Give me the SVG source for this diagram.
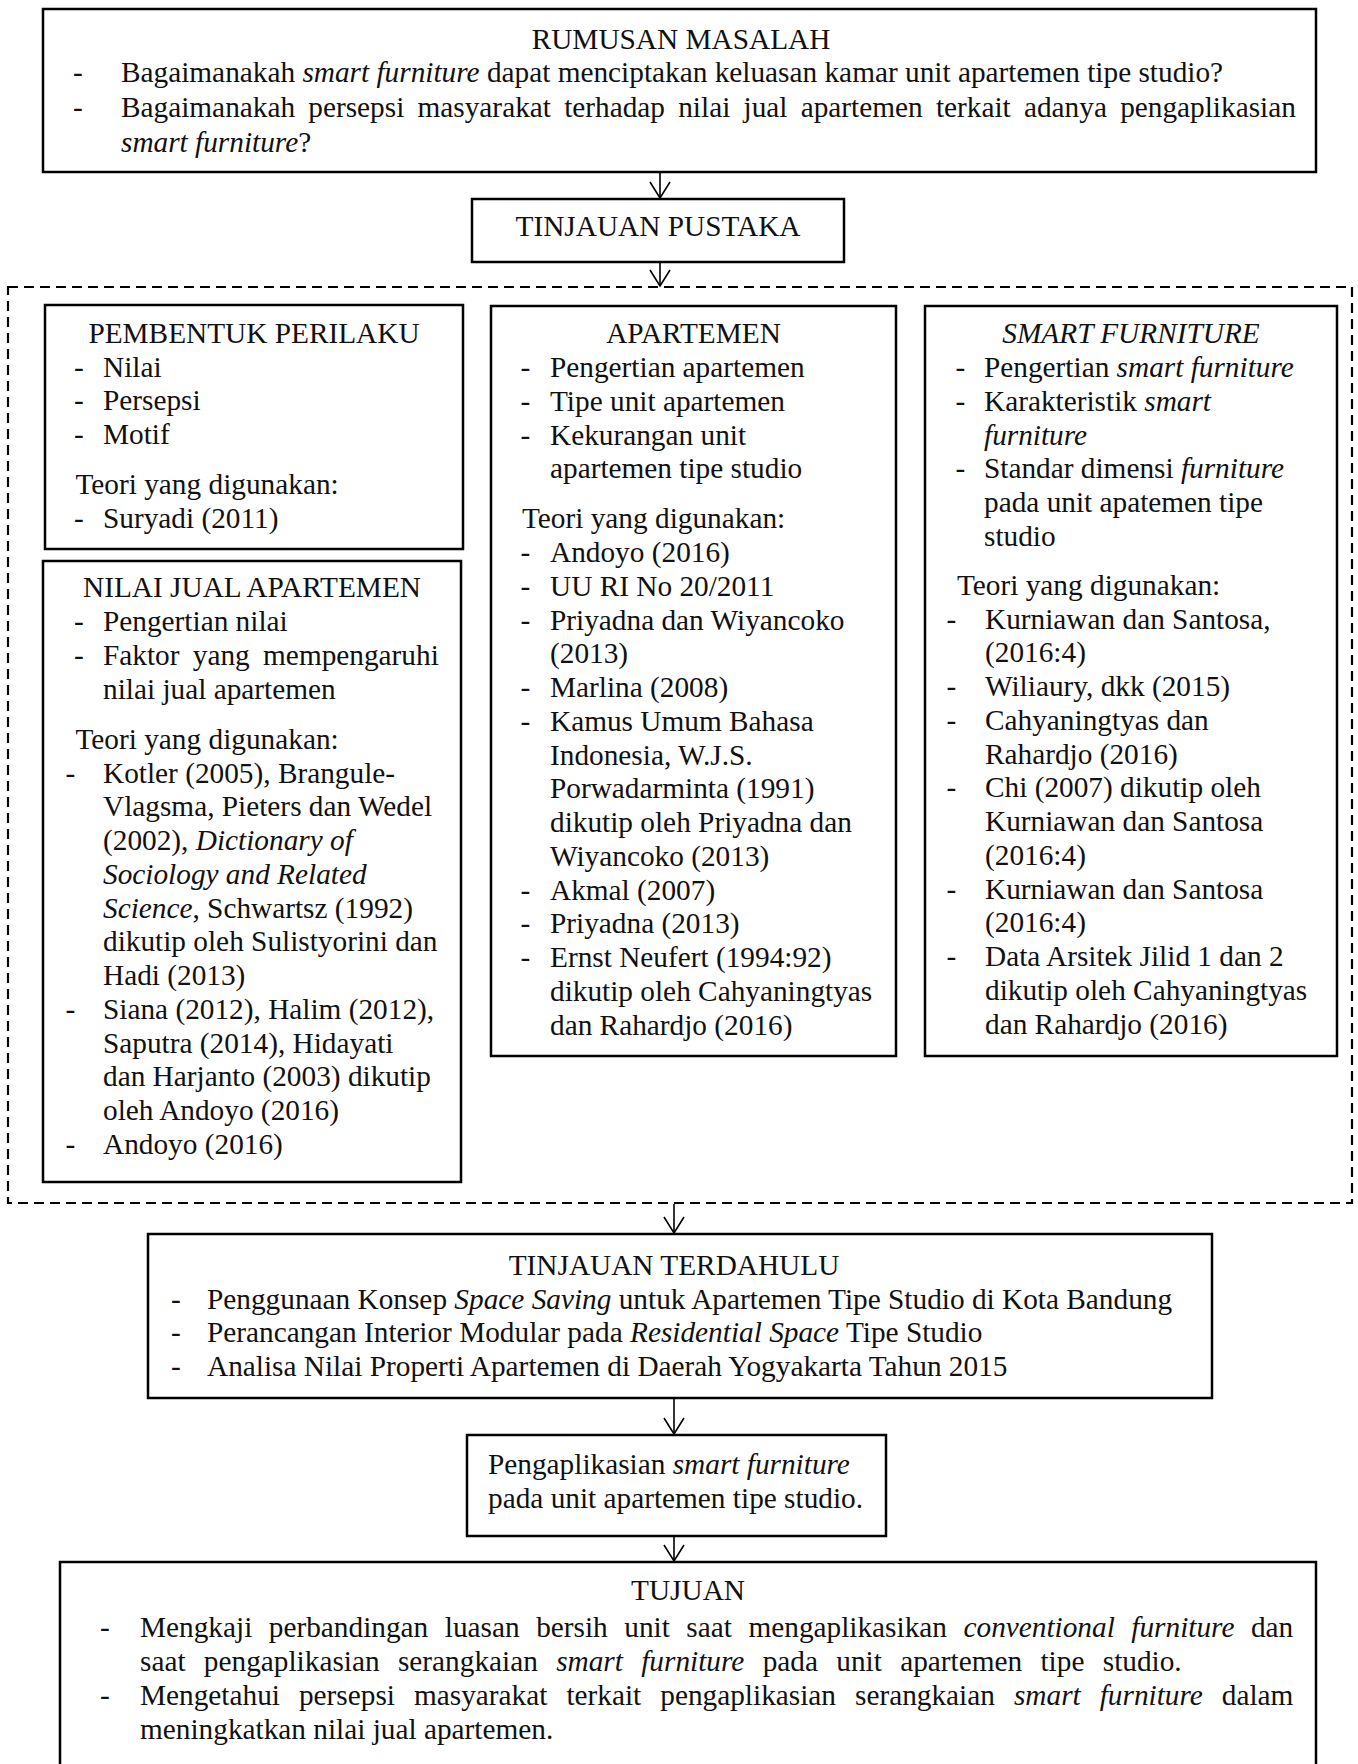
<svg xmlns="http://www.w3.org/2000/svg" width="1358" height="1764" viewBox="0 0 1358 1764">
<defs>
<style>
.box{fill:#fff;stroke:#000;stroke-width:2.5}
.frame{fill:none;stroke:#000;stroke-width:2.2;stroke-dasharray:10 6}
.t{font-family:"Liberation Serif","Times New Roman",serif;font-size:29.3px;fill:#111}
.c{text-anchor:middle}
.i{font-style:italic}
.ln{stroke:#000;stroke-width:1.6;fill:none}
</style>
<marker id="arr" markerUnits="userSpaceOnUse" markerWidth="22" markerHeight="26" viewBox="-2 -13 22 26" refX="16" refY="0" orient="auto">
<path d="M0,-10 L16,0 L0,10" fill="none" stroke="#000" stroke-width="1.6"/>
</marker>
</defs>
<rect width="1358" height="1764" fill="#fff"/>

<g id="connectors">
<line class="ln" x1="660" y1="172" x2="660" y2="198" marker-end="url(#arr)"/>
<line class="ln" x1="660" y1="262" x2="660" y2="286" marker-end="url(#arr)"/>
<line class="ln" x1="674" y1="1204" x2="674" y2="1233" marker-end="url(#arr)"/>
<line class="ln" x1="674" y1="1399" x2="674" y2="1434" marker-end="url(#arr)"/>
<line class="ln" x1="674" y1="1537" x2="674" y2="1561" marker-end="url(#arr)"/>
</g>

<g id="rumusan-masalah">
<rect class="box" x="43" y="9" width="1273" height="163"/>
<text class="t c" x="681" y="49">RUMUSAN MASALAH</text>
<text class="t" x="73" y="82">-</text>
<text class="t" x="121" y="82">Bagaimanakah <tspan class="i">smart furniture</tspan> dapat menciptakan keluasan kamar unit apartemen tipe studio?</text>
<text class="t" x="73" y="117">-</text>
<text class="t" x="121" y="117" word-spacing="5.9">Bagaimanakah persepsi masyarakat terhadap nilai jual apartemen terkait adanya pengaplikasian</text>
<text class="t" x="121" y="151.5"><tspan class="i">smart furniture</tspan>?</text>
</g>

<g id="tinjauan-pustaka">
<rect class="box" x="472" y="199" width="372" height="63"/>
<text class="t c" x="658" y="236">TINJAUAN PUSTAKA</text>
</g>

<g id="tinjauan-pustaka-frame">
<rect class="frame" x="8" y="287" width="1344" height="916"/>
</g>

<g id="pembentuk-perilaku">
<rect class="box" x="45" y="305" width="418" height="244"/>
<text class="t c" x="254" y="343">PEMBENTUK PERILAKU</text>
<text class="t" x="74" y="376.5">-</text><text class="t" x="103" y="376.5">Nilai</text>
<text class="t" x="74" y="410.25">-</text><text class="t" x="103" y="410.25">Persepsi</text>
<text class="t" x="74" y="444">-</text><text class="t" x="103" y="444">Motif</text>
<text class="t" x="75.5" y="494">Teori yang digunakan:</text>
<text class="t" x="74" y="527.5">-</text><text class="t" x="103" y="527.5">Suryadi (2011)</text>
</g>

<g id="nilai-jual-apartemen">
<rect class="box" x="43" y="561" width="418" height="621"/>
<text class="t c" x="252" y="597">NILAI JUAL APARTEMEN</text>
<text class="t" x="74" y="631">-</text><text class="t" x="103" y="631">Pengertian nilai</text>
<text class="t" x="74" y="664.75">-</text><text class="t" x="103" y="664.75" word-spacing="6">Faktor yang mempengaruhi</text>
<text class="t" x="103" y="698.5">nilai jual apartemen</text>
<text class="t" x="75.5" y="748.5">Teori yang digunakan:</text>
<text class="t" x="65.5" y="782.5">-</text><text class="t" x="103" y="782.5">Kotler (2005), Brangule-</text>
<text class="t" x="103" y="816.25">Vlagsma, Pieters dan Wedel</text>
<text class="t" x="103" y="850">(2002), <tspan class="i">Dictionary of</tspan></text>
<text class="t i" x="103" y="883.75">Sociology and Related</text>
<text class="t" x="103" y="917.5"><tspan class="i">Science</tspan>, Schwartsz (1992)</text>
<text class="t" x="103" y="951.25">dikutip oleh Sulistyorini dan</text>
<text class="t" x="103" y="985">Hadi (2013)</text>
<text class="t" x="65.5" y="1018.75">-</text><text class="t" x="103" y="1018.75">Siana (2012), Halim (2012),</text>
<text class="t" x="103" y="1052.5">Saputra (2014), Hidayati</text>
<text class="t" x="103" y="1086.25">dan Harjanto (2003) dikutip</text>
<text class="t" x="103" y="1120">oleh Andoyo (2016)</text>
<text class="t" x="65.5" y="1153.75">-</text><text class="t" x="103" y="1153.75">Andoyo (2016)</text>
</g>

<g id="apartemen">
<rect class="box" x="491" y="306" width="405" height="750"/>
<text class="t c" x="693.5" y="343">APARTEMEN</text>
<text class="t" x="520.5" y="377">-</text><text class="t" x="550" y="377">Pengertian apartemen</text>
<text class="t" x="520.5" y="410.75">-</text><text class="t" x="550" y="410.75">Tipe unit apartemen</text>
<text class="t" x="520.5" y="444.5">-</text><text class="t" x="550" y="444.5">Kekurangan unit</text>
<text class="t" x="550" y="478.25">apartemen tipe studio</text>
<text class="t" x="522" y="528">Teori yang digunakan:</text>
<text class="t" x="520.5" y="562">-</text><text class="t" x="550" y="562">Andoyo (2016)</text>
<text class="t" x="520.5" y="595.75">-</text><text class="t" x="550" y="595.75">UU RI No 20/2011</text>
<text class="t" x="520.5" y="629.5">-</text><text class="t" x="550" y="629.5">Priyadna dan Wiyancoko</text>
<text class="t" x="550" y="663.25">(2013)</text>
<text class="t" x="520.5" y="697">-</text><text class="t" x="550" y="697">Marlina (2008)</text>
<text class="t" x="520.5" y="730.75">-</text><text class="t" x="550" y="730.75">Kamus Umum Bahasa</text>
<text class="t" x="550" y="764.5">Indonesia, W.J.S.</text>
<text class="t" x="550" y="798.25">Porwadarminta (1991)</text>
<text class="t" x="550" y="832">dikutip oleh Priyadna dan</text>
<text class="t" x="550" y="865.75">Wiyancoko (2013)</text>
<text class="t" x="520.5" y="899.5">-</text><text class="t" x="550" y="899.5">Akmal (2007)</text>
<text class="t" x="520.5" y="933.25">-</text><text class="t" x="550" y="933.25">Priyadna (2013)</text>
<text class="t" x="520.5" y="967">-</text><text class="t" x="550" y="967">Ernst Neufert (1994:92)</text>
<text class="t" x="550" y="1000.75">dikutip oleh Cahyaningtyas</text>
<text class="t" x="550" y="1034.5">dan Rahardjo (2016)</text>
</g>

<g id="smart-furniture">
<rect class="box" x="925" y="306" width="412" height="750"/>
<text class="t c i" x="1131" y="343">SMART FURNITURE</text>
<text class="t" x="955.5" y="377">-</text><text class="t" x="984" y="377">Pengertian <tspan class="i">smart furniture</tspan></text>
<text class="t" x="955.5" y="410.75">-</text><text class="t" x="984" y="410.75">Karakteristik <tspan class="i">smart</tspan></text>
<text class="t i" x="984" y="444.5">furniture</text>
<text class="t" x="955.5" y="478.25">-</text><text class="t" x="984" y="478.25">Standar dimensi <tspan class="i">furniture</tspan></text>
<text class="t" x="984" y="512">pada unit apatemen tipe</text>
<text class="t" x="984" y="545.75">studio</text>
<text class="t" x="957" y="595">Teori yang digunakan:</text>
<text class="t" x="946.5" y="628.5">-</text><text class="t" x="985" y="628.5">Kurniawan dan Santosa,</text>
<text class="t" x="985" y="662.25">(2016:4)</text>
<text class="t" x="946.5" y="696">-</text><text class="t" x="985" y="696">Wiliaury, dkk (2015)</text>
<text class="t" x="946.5" y="729.75">-</text><text class="t" x="985" y="729.75">Cahyaningtyas dan</text>
<text class="t" x="985" y="763.5">Rahardjo (2016)</text>
<text class="t" x="946.5" y="797.25">-</text><text class="t" x="985" y="797.25">Chi (2007) dikutip oleh</text>
<text class="t" x="985" y="831">Kurniawan dan Santosa</text>
<text class="t" x="985" y="864.75">(2016:4)</text>
<text class="t" x="946.5" y="898.5">-</text><text class="t" x="985" y="898.5">Kurniawan dan Santosa</text>
<text class="t" x="985" y="932.25">(2016:4)</text>
<text class="t" x="946.5" y="966">-</text><text class="t" x="985" y="966">Data Arsitek Jilid 1 dan 2</text>
<text class="t" x="985" y="999.75">dikutip oleh Cahyaningtyas</text>
<text class="t" x="985" y="1033.5">dan Rahardjo (2016)</text>
</g>

<g id="tinjauan-terdahulu">
<rect class="box" x="148" y="1234" width="1064" height="164"/>
<text class="t c" x="674" y="1275">TINJAUAN TERDAHULU</text>
<text class="t" x="171" y="1308.5">-</text><text class="t" x="207" y="1308.5">Penggunaan Konsep <tspan class="i">Space Saving</tspan> untuk Apartemen Tipe Studio di Kota Bandung</text>
<text class="t" x="171" y="1342.25">-</text><text class="t" x="207" y="1342.25">Perancangan Interior Modular pada <tspan class="i">Residential Space</tspan> Tipe Studio</text>
<text class="t" x="171" y="1376">-</text><text class="t" x="207" y="1376">Analisa Nilai Properti Apartemen di Daerah Yogyakarta Tahun 2015</text>
</g>

<g id="pengaplikasian">
<rect class="box" x="467" y="1435" width="419" height="101"/>
<text class="t" x="488" y="1474">Pengaplikasian <tspan class="i">smart furniture</tspan></text>
<text class="t" x="488" y="1508">pada unit apartemen tipe studio.</text>
</g>

<g id="tujuan">
<rect class="box" x="60" y="1562" width="1256" height="230"/>
<text class="t c" x="688" y="1600">TUJUAN</text>
<text class="t" x="100" y="1637">-</text><text class="t" x="140" y="1637" word-spacing="9.2">Mengkaji perbandingan luasan bersih unit saat mengaplikasikan <tspan class="i">conventional furniture</tspan> dan</text>
<text class="t" x="140" y="1671" word-spacing="11">saat pengaplikasian serangkaian <tspan class="i">smart furniture</tspan> pada unit apartemen tipe studio.</text>
<text class="t" x="100" y="1705">-</text><text class="t" x="140" y="1705" word-spacing="11.7">Mengetahui persepsi masyarakat terkait pengaplikasian serangkaian <tspan class="i">smart furniture</tspan> dalam</text>
<text class="t" x="140" y="1739">meningkatkan nilai jual apartemen.</text>
</g>
</svg>
